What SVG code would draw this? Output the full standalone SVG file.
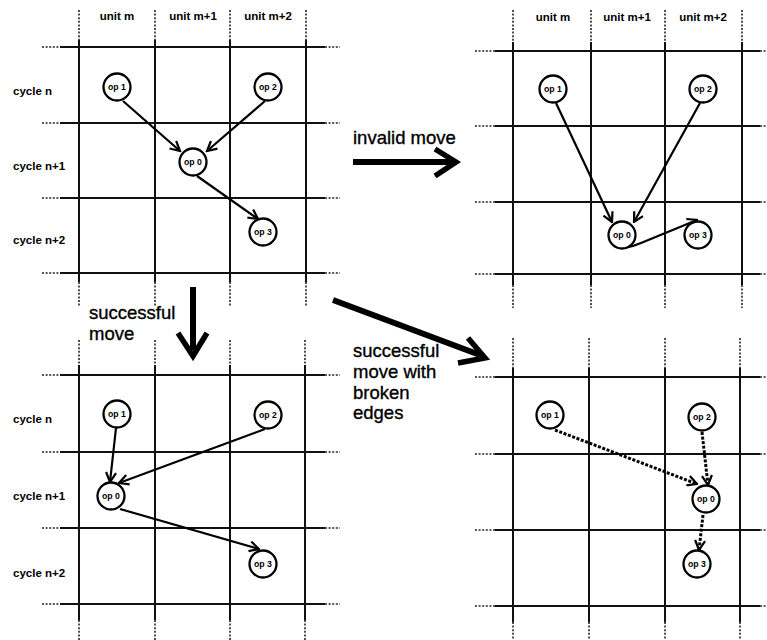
<svg xmlns="http://www.w3.org/2000/svg" width="767" height="640" viewBox="0 0 767 640">
  <style>
    .solid { stroke: #111; stroke-width: 2; fill: none; }
    .dot { stroke: #222; stroke-width: 1.6; stroke-dasharray: 2 1.6; fill: none; }
    .nd circle { fill: #fff; stroke: #000; stroke-width: 2.3; }
    .nd text { font-family: "Liberation Sans", Arial, sans-serif; font-size: 8.7px; font-weight: bold; text-anchor: middle; fill: #000; }
    .unit { font-family: "Liberation Sans", Arial, sans-serif; font-size: 11.5px; font-weight: bold; text-anchor: middle; fill: #000; }
    .cyc { font-family: "Liberation Sans", Arial, sans-serif; font-size: 11.5px; font-weight: bold; fill: #000; }
    .big { font-family: "Liberation Sans", Arial, sans-serif; font-size: 18.5px; fill: #000; stroke: #000; stroke-width: 0.35; }
    .edge { stroke: #000; stroke-width: 2.2; fill: none; marker-end: url(#vee); }
    .broken { stroke: #000; stroke-width: 3; stroke-dasharray: 3 1.6; fill: none; marker-end: url(#vee); }
    .thick { stroke: #000; stroke-width: 6; fill: none; }
    .head { stroke: #000; stroke-width: 5.5; fill: none; stroke-linejoin: miter; stroke-linecap: butt; }
  </style>
  <defs>
    <marker id="vee" viewBox="0 0 12 12" refX="10.5" refY="6" markerWidth="12" markerHeight="12" markerUnits="userSpaceOnUse" orient="auto">
      <path d="M1,1 L10.5,6 L1,11" fill="none" stroke="#000" stroke-width="2.2" stroke-dasharray="none"/>
    </marker>
  </defs>

  <!-- schedule grids -->
  <g id="grids">
    <!-- top-left grid -->
    <path class="solid" d="M60 47H325M60 123H325M60 198H325M60 273H325M79 40V282M155 40V282M230 40V282M306 40V282"/>
    <path class="dot" d="M42 47H60M42 123H60M42 198H60M42 273H60M325 47H340M325 123H340M325 198H340M325 273H340M79 10V40M155 10V40M230 10V40M306 10V40M79 282V306M155 282V306M230 282V306M306 282V306"/>
    <!-- top-right grid -->
    <path class="solid" d="M495 51H760M495 126H760M495 202H760M495 274H760M513 42V285M591 42V285M665 42V285M742 42V285"/>
    <path class="dot" d="M475 51H495M475 126H495M475 202H495M475 274H495M760 51H767M760 126H767M760 202H767M760 274H767M513 10V42M591 10V42M665 10V42M742 10V42M513 285V308M591 285V308M665 285V308M742 285V308"/>
    <!-- bottom-left grid -->
    <path class="solid" d="M60 375H325M60 452H325M60 528H325M60 604H325M79 365V620M155 365V620M230 365V620M305 365V620"/>
    <path class="dot" d="M42 375H60M42 452H60M42 528H60M42 604H60M325 375H340M325 452H340M325 528H340M325 604H340M79 340V365M155 340V365M230 340V365M305 340V365M79 620V640M155 620V640M230 620V640M305 620V640"/>
    <!-- bottom-right grid -->
    <path class="solid" d="M495 377H760M495 454H760M495 530H760M495 606H760M513 368V622M589 368V622M665 368V622M740 368V622"/>
    <path class="dot" d="M475 377H495M475 454H495M475 530H495M475 606H495M760 377H767M760 454H767M760 530H767M760 606H767M513 338V368M589 338V368M665 338V368M740 338V368M513 622V640M589 622V640M665 622V640M740 622V640"/>
  </g>

  <!-- unit and cycle labels -->
  <g id="labels">
    <text class="unit" x="117" y="20">unit m</text>
    <text class="unit" x="193" y="20">unit m+1</text>
    <text class="unit" x="268" y="20">unit m+2</text>
    <text class="unit" x="553" y="21">unit m</text>
    <text class="unit" x="627" y="21">unit m+1</text>
    <text class="unit" x="703" y="21">unit m+2</text>
    <text class="cyc" x="13" y="95">cycle n</text>
    <text class="cyc" x="13" y="170">cycle n+1</text>
    <text class="cyc" x="13" y="244">cycle n+2</text>
    <text class="cyc" x="13" y="423">cycle n</text>
    <text class="cyc" x="13" y="500">cycle n+1</text>
    <text class="cyc" x="13" y="577">cycle n+2</text>
  </g>

  <!-- dependence edges -->
  <g id="edges">
    <path class="edge" d="M123 101L180 151"/>
    <path class="edge" d="M265 101L207 151"/>
    <path class="edge" d="M197 176L258 219"/>

    <path class="edge" d="M556 103L612 222"/>
    <path class="edge" d="M700 103L634 222"/>
    <path class="edge" d="M624 248Q632 247 641 243L697 220"/>

    <path class="edge" d="M116 428L110 482"/>
    <path class="edge" d="M265 429L119 483"/>
    <path class="edge" d="M120 509L259 549"/>

    <path class="broken" d="M555 430L697 484"/>
    <path class="broken" d="M702 432L708 485"/>
    <path class="broken" d="M703 515L699 550"/>
  </g>

  <!-- operations: top-left -->
  <g id="tl-op1" class="nd"><circle cx="117" cy="87" r="13.5"/><text x="117" y="90">op 1</text></g>
  <g id="tl-op2" class="nd"><circle cx="268" cy="87" r="13.5"/><text x="268" y="90">op 2</text></g>
  <g id="tl-op0" class="nd"><circle cx="193" cy="162" r="13.5"/><text x="193" y="165">op 0</text></g>
  <g id="tl-op3" class="nd"><circle cx="263" cy="232" r="13.5"/><text x="263" y="235">op 3</text></g>

  <!-- operations: top-right -->
  <g id="tr-op1" class="nd"><circle cx="553" cy="89" r="13.5"/><text x="553" y="92">op 1</text></g>
  <g id="tr-op2" class="nd"><circle cx="703" cy="89" r="13.5"/><text x="703" y="92">op 2</text></g>
  <g id="tr-op0" class="nd"><circle cx="622" cy="235" r="13.5"/><text x="622" y="238">op 0</text></g>
  <g id="tr-op3" class="nd"><circle cx="698" cy="235" r="13.5"/><text x="698" y="238">op 3</text></g>

  <!-- operations: bottom-left -->
  <g id="bl-op1" class="nd"><circle cx="117" cy="414" r="13.5"/><text x="117" y="417">op 1</text></g>
  <g id="bl-op2" class="nd"><circle cx="268" cy="415" r="13.5"/><text x="268" y="418">op 2</text></g>
  <g id="bl-op0" class="nd"><circle cx="111" cy="496" r="13.5"/><text x="111" y="499">op 0</text></g>
  <g id="bl-op3" class="nd"><circle cx="263" cy="564" r="13.5"/><text x="263" y="567">op 3</text></g>

  <!-- operations: bottom-right -->
  <g id="br-op1" class="nd"><circle cx="550" cy="415" r="13.5"/><text x="550" y="418">op 1</text></g>
  <g id="br-op2" class="nd"><circle cx="702" cy="417" r="13.5"/><text x="702" y="420">op 2</text></g>
  <g id="br-op0" class="nd"><circle cx="706" cy="499" r="13.5"/><text x="706" y="502">op 0</text></g>
  <g id="br-op3" class="nd"><circle cx="697" cy="564" r="13.5"/><text x="697" y="567">op 3</text></g>

  <!-- transformation arrows and captions -->
  <g id="move-invalid">
    <path class="thick" d="M353 162H452"/>
    <path class="head" d="M435 149L456 162L435 176"/>
    <text class="big" x="353" y="144">invalid move</text>
  </g>
  <g id="move-successful">
    <path class="thick" d="M193 287V350"/>
    <path class="head" d="M178 333L193 356L207 333"/>
    <text class="big" x="89" y="319">successful</text>
    <text class="big" x="89" y="340">move</text>
  </g>
  <g id="move-broken">
    <path class="thick" d="M333 300L480 355"/>
    <path class="head" d="M468 338L485 358L458 363"/>
    <text class="big" x="353" y="357">successful</text>
    <text class="big" x="353" y="378">move with</text>
    <text class="big" x="353" y="399">broken</text>
    <text class="big" x="353" y="419">edges</text>
  </g>
</svg>
